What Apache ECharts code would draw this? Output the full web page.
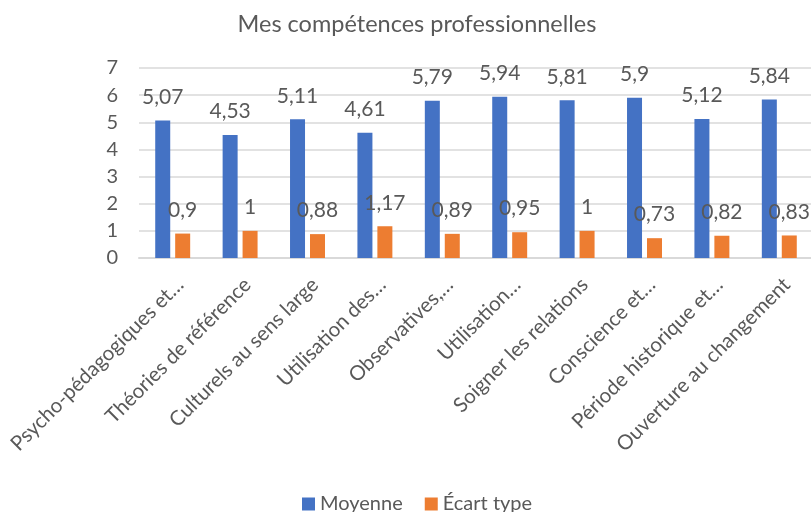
<!DOCTYPE html>
<html>
<head>
<meta charset="utf-8">
<script src="https://cdn.jsdelivr.net/npm/echarts@6/dist/echarts.min.js"></script>
<style>
  html, body { margin: 0; padding: 0; background: #fff; }
  #chart { width: 811px; height: 512px; }
</style>
</head>
<body>
<div id="chart"></div>
<script>
// Skill areas (labels as shown on the axis)
const categories = [
  'Psycho-pédagogiques et…',
  'Théories de référence',
  'Culturels au sens large',
  'Utilisation des…',
  'Observatives,…',
  'Utilisation…',
  'Soigner les relations',
  'Conscience et…',
  'Période historique et…',
  'Ouverture au changement'
];
const moyenne = [5.07, 4.53, 5.11, 4.61, 5.79, 5.94, 5.81, 5.9, 5.12, 5.84];
const ecartType = [0.9, 1, 0.88, 1.17, 0.89, 0.95, 1, 0.73, 0.82, 0.83];
const yTicks = [0, 1, 2, 3, 4, 5, 6, 7];

const FONT = 'Lato';
const TEXT = '#595959';
const GRID = '#D9D9D9';

const fmt = p => String(p.value).replace('.', ',');

const chart = echarts.init(document.getElementById('chart'), null, { renderer: 'canvas' });
chart.setOption({
  animation: false,
  textStyle: { fontFamily: FONT },
  title: {
    text: 'Mes compétences professionnelles',
    left: 412,
    textAlign: 'center',
    top: 7,
    textStyle: { fontFamily: FONT, fontSize: 23.5, fontWeight: 'normal', color: TEXT }
  },
  legend: {
    data: ['Moyenne', 'Écart type'],
    left: 297,
    top: 489,
    icon: 'rect',
    itemWidth: 13,
    itemHeight: 13,
    itemGap: 22,
    textStyle: { fontFamily: FONT, fontSize: 20, color: TEXT }
  },
  grid: { left: 139, right: -2, top: 68, bottom: 254, containLabel: false, outerBoundsMode: 'none' },
  xAxis: {
    type: 'category',
    data: categories,
    axisLine: { lineStyle: { color: GRID, width: 2 } },
    axisTick: { show: false },
    axisLabel: {
      rotate: 45,
      interval: 0,
      margin: 16,
      verticalAlign: 'top',
      fontFamily: FONT,
      fontSize: 20.5,
      color: TEXT
    }
  },
  yAxis: {
    type: 'value',
    min: yTicks[0],
    max: yTicks[yTicks.length - 1],
    interval: 1,
    axisLine: { show: false },
    axisTick: { show: false },
    splitLine: { lineStyle: { color: GRID, width: 1.5 } },
    axisLabel: { margin: 21, fontFamily: FONT, fontSize: 20, color: TEXT }
  },
  series: [
    {
      name: 'Moyenne',
      type: 'bar',
      data: moyenne,
      barWidth: 15,
      barGap: '33%',
      itemStyle: { color: '#4472C4' },
      label: { show: true, position: 'top', distance: 13, formatter: fmt,
               fontFamily: FONT, fontSize: 21, color: TEXT }
    },
    {
      name: 'Écart type',
      type: 'bar',
      data: ecartType,
      barWidth: 15,
      itemStyle: { color: '#ED7D31' },
      label: { show: true, position: 'top', distance: 13, formatter: fmt,
               fontFamily: FONT, fontSize: 21, color: TEXT }
    }
  ]
});
</script>
</body>
</html>
